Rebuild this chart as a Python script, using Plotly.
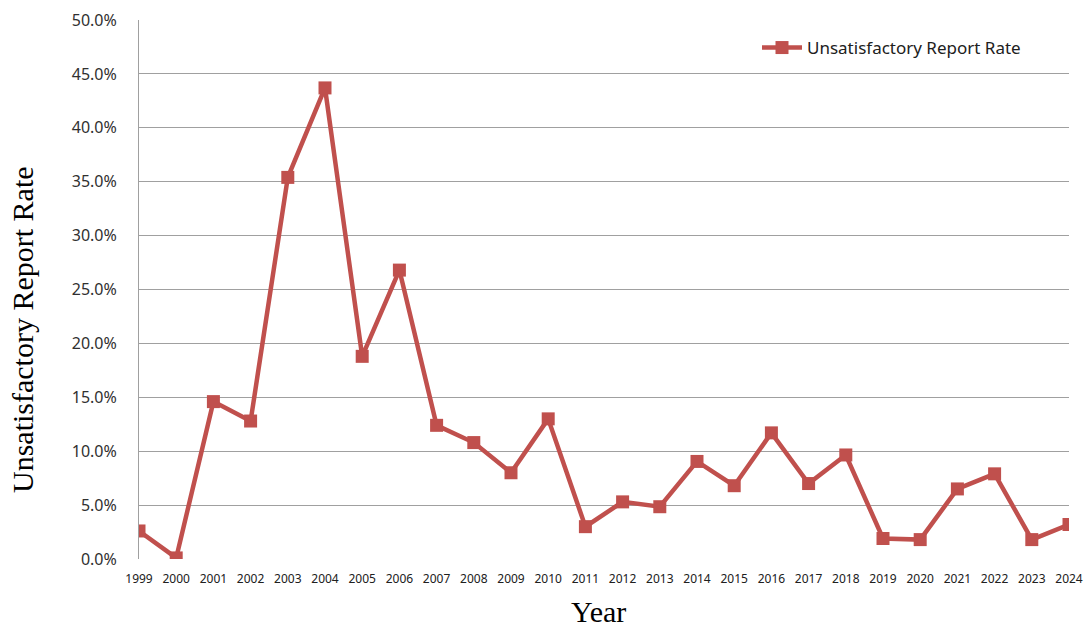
import plotly.graph_objects as go

years = list(range(1999, 2025))
rates = [2.6, 0.1, 14.6, 12.8, 35.4, 43.7, 18.8, 26.8, 12.4, 10.8, 8.0, 13.0, 3.0,
         5.3, 4.85, 9.05, 6.8, 11.7, 7.0, 9.65, 1.9, 1.8, 6.5, 7.9, 1.8, 3.2]
rates = [r / 100 for r in rates]
y_ticks = [i * 0.05 for i in range(11)]

color = "#C0504D"
fig = go.Figure()
fig.add_trace(go.Scatter(
    x=years, y=rates, mode="lines+markers", name="Unsatisfactory Report Rate",
    line=dict(color=color, width=4.5),
    marker=dict(symbol="square", size=13, color=color),
))

L, R, T, B = 139, 17, 20, 69
plot_w, plot_h = 1086 - L - R, 628 - T - B

fig.update_layout(
    width=1086, height=628,
    margin=dict(l=L, r=R, t=T, b=B),
    paper_bgcolor="white", plot_bgcolor="white",
    font=dict(family="Noto Sans", color="#404040"),
    showlegend=True,
    legend=dict(x=(757 - L) / plot_w, y=(559 - 48) / plot_h, xanchor="left", yanchor="middle",
                bgcolor="rgba(0,0,0,0)", font=dict(size=17, color="#202020"),
                itemwidth=40),
    xaxis=dict(range=[1999, 2024], tickvals=years, ticktext=[str(y) for y in years],
               showgrid=False, zeroline=False, showline=False, automargin=False,
               ticks="outside", ticklen=9, tickcolor="rgba(0,0,0,0)",
               tickfont=dict(size=12, color="#202020")),
    yaxis=dict(range=[0, 0.5], tickvals=y_ticks, tickformat=".1%", automargin=False,
               showgrid=True, gridcolor="#A0A0A0", gridwidth=1,
               zeroline=False, showline=True, linecolor="#A0A0A0", linewidth=1,
               ticks="outside", ticklen=18, tickcolor="rgba(0,0,0,0)",
               tickfont=dict(size=16, color="#303030")),
    annotations=[
        dict(text="Year", x=(598 - L) / plot_w, y=(559 - 611) / plot_h,
             xref="paper", yref="paper",
             xanchor="center", yanchor="middle", showarrow=False,
             font=dict(family="Liberation Serif", size=30, color="black")),
        dict(text="Unsatisfactory Report Rate", x=(22 - L) / plot_w, y=(559 - 330) / plot_h,
             xref="paper", yref="paper", xanchor="center", yanchor="middle",
             showarrow=False, textangle=-90,
             font=dict(family="Liberation Serif", size=30, color="black")),
    ],
)

fig.write_html("out.html")
